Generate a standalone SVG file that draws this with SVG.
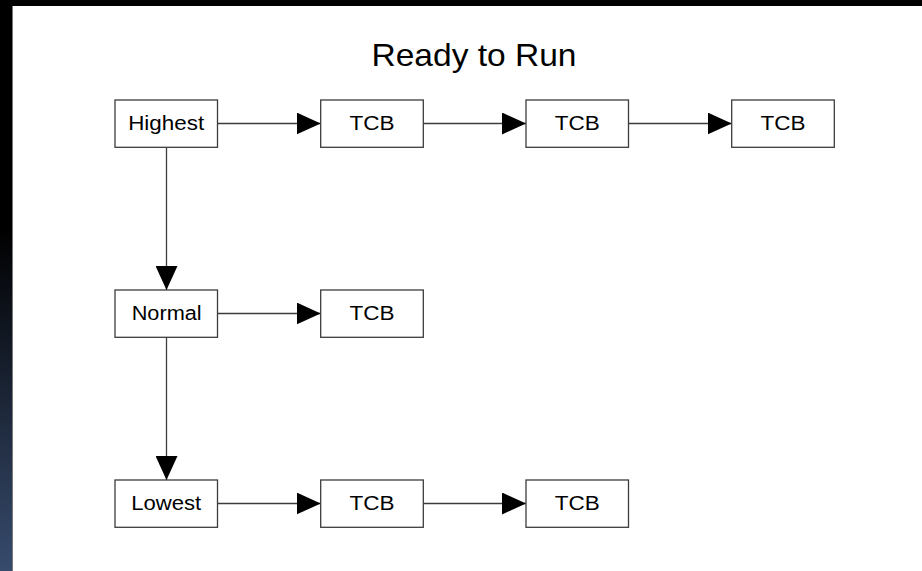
<svg xmlns="http://www.w3.org/2000/svg" width="922" height="571" viewBox="0 0 922 571">
  <defs>
    <linearGradient id="edgeShade" x1="0" y1="0" x2="0" y2="571" gradientUnits="userSpaceOnUse">
      <stop offset="0" stop-color="#000000"/>
      <stop offset="0.4" stop-color="#000000"/>
      <stop offset="1" stop-color="#374b6d"/>
    </linearGradient>
    <marker id="head" markerUnits="userSpaceOnUse" markerWidth="24" markerHeight="22" refX="24" refY="11" orient="auto" viewBox="0 0 24 22">
      <path d="M0,0 L24,11 L0,22 Z" fill="#000000"/>
    </marker>
  </defs>
  <style>
    .box { fill: #ffffff; stroke: #3c3c3c; stroke-width: 1.3; }
    .lbl { font-family: "Liberation Sans", Arial, sans-serif; font-size: 20px; fill: #000000; text-anchor: middle; }
    .title { font-family: "Liberation Sans", Arial, sans-serif; font-size: 30.5px; fill: #000000; text-anchor: middle; }
    .conn line { stroke: #3c3c3c; stroke-width: 1.3; marker-end: url(#head); }
  </style>

  <!-- frame -->
  <rect x="0" y="0" width="922" height="571" fill="#000000"/>
  <rect x="0" y="0" width="13" height="571" fill="url(#edgeShade)"/>
  <rect x="12.5" y="6" width="909.5" height="565" fill="#ffffff"/>
  <line x1="12.5" y1="6" x2="12.5" y2="571" stroke="#777777" stroke-width="1"/>

  <text class="title" x="474" y="66" textLength="205" lengthAdjust="spacingAndGlyphs">Ready to Run</text>

  <!-- connectors -->
  <g id="connectors" class="conn">
    <line x1="217.5" y1="123.5" x2="320.7" y2="123.5"/>
    <line x1="423.3" y1="123.5" x2="526" y2="123.5"/>
    <line x1="628.5" y1="123.5" x2="731.7" y2="123.5"/>
    <line x1="217.5" y1="313.5" x2="320.7" y2="313.5"/>
    <line x1="217.5" y1="503.5" x2="320.7" y2="503.5"/>
    <line x1="423.3" y1="503.5" x2="526" y2="503.5"/>
    <line x1="166.5" y1="147.3" x2="166.5" y2="290"/>
    <line x1="166.5" y1="337.3" x2="166.5" y2="480"/>
  </g>

  <!-- priority level nodes -->
  <g id="highest">
    <rect class="box" x="115" y="100" width="102.5" height="47.3"/>
    <text class="lbl" x="166.2" y="130" textLength="76" lengthAdjust="spacingAndGlyphs">Highest</text>
  </g>
  <g id="normal">
    <rect class="box" x="115" y="290" width="102.5" height="47.3"/>
    <text class="lbl" x="166.7" y="320" textLength="70" lengthAdjust="spacingAndGlyphs">Normal</text>
  </g>
  <g id="lowest">
    <rect class="box" x="115" y="480" width="102.5" height="47.3"/>
    <text class="lbl" x="166.2" y="510" textLength="70" lengthAdjust="spacingAndGlyphs">Lowest</text>
  </g>

  <!-- task control blocks -->
  <g id="tcb-h1">
    <rect class="box" x="320.7" y="100" width="102.6" height="47.3"/>
    <text class="lbl" x="372" y="130" textLength="45" lengthAdjust="spacingAndGlyphs">TCB</text>
  </g>
  <g id="tcb-h2">
    <rect class="box" x="526" y="100" width="102.5" height="47.3"/>
    <text class="lbl" x="577.3" y="130" textLength="45" lengthAdjust="spacingAndGlyphs">TCB</text>
  </g>
  <g id="tcb-h3">
    <rect class="box" x="731.7" y="100" width="102.6" height="47.3"/>
    <text class="lbl" x="783" y="130" textLength="45" lengthAdjust="spacingAndGlyphs">TCB</text>
  </g>
  <g id="tcb-n1">
    <rect class="box" x="320.7" y="290" width="102.6" height="47.3"/>
    <text class="lbl" x="372" y="320" textLength="45" lengthAdjust="spacingAndGlyphs">TCB</text>
  </g>
  <g id="tcb-l1">
    <rect class="box" x="320.7" y="480" width="102.6" height="47.3"/>
    <text class="lbl" x="372" y="510" textLength="45" lengthAdjust="spacingAndGlyphs">TCB</text>
  </g>
  <g id="tcb-l2">
    <rect class="box" x="526" y="480" width="102.5" height="47.3"/>
    <text class="lbl" x="577.3" y="510" textLength="45" lengthAdjust="spacingAndGlyphs">TCB</text>
  </g>
</svg>
